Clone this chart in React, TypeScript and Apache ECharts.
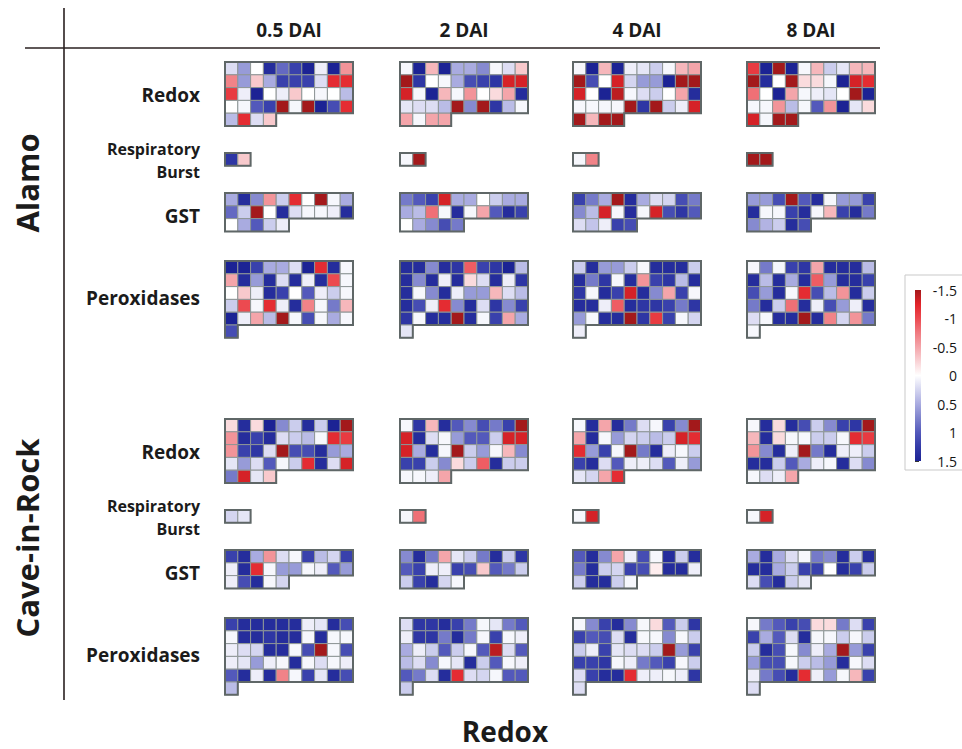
import React, { useEffect, useRef } from "react";
import * as echarts from "echarts";

// ---- labels ----
const TIMEPOINTS = ["0.5 DAI", "2 DAI", "4 DAI", "8 DAI"];
const CULTIVARS = ["Alamo", "Cave-in-Rock"];
const GROUPS = ["Redox", "Respiratory\nBurst", "GST", "Peroxidases"];
const X_TITLE = "Redox";
const COLS = 10;

// colour ramp from -1.5 (top of the key) to 1.5, evenly spaced
const COLOR_STOPS = [
  "#a3191b", "#e2242a", "#ec4a50", "#f07a80", "#f4a5aa", "#f9d2d5", "#ffffff",
  "#d4d5f0", "#a9abe0", "#7d82cc", "#5359bb", "#333ba8", "#1c2394",
];
const SCALE_MIN = -1.5;
const SCALE_MAX = 1.5;
const SCALE_STEP = 0.5;

// ---- Alamo ----
const alamo05Redox = [
  0.2, 0.6, 0, 1.4, 0.9, 1.2, 1.5, 0.1, 1.5, -0.6,
  -0.7, 0.6, -0.3, 0.5, 1.2, 1.2, 1.2, 0.2, -1.2, -1.2,
  -1.1, 0.1, 1.5, 0, 0.1, -0.3, 0, 0.05, 0, 0.4,
  0, 0.05, 1.0, 1.2, -1.5, 0.05, -1.5, 1.5, 1.1, -1.2,
  0.4, -1.2, 0.2, -0.3,
];
const alamo05Burst = [1.3, -0.3];
const alamo05Gst = [
  0.5, 1.4, 0.7, -0.6, 0.3, -1.2, 0, -1.5, 0.05, 0.5,
  0.9, 0.3, -1.5, 0, 1.4, 0.2, 0.05, 0.05, 0.1, 1.4,
  0, 0.5, 1.0, 0.3, 0.1,
];
const alamo05Perox = [
  1.5, 1.5, 1.2, 0.5, 0.5, 0.2, 1.5, -1.2, 1.4, 0.05,
  -0.5, 1.4, 0.6, 1.4, 0.2, 1.4, 0.1, 1.4, -1.0, 0.05,
  0, -0.3, 0.1, 1.4, 1.2, 0, 1.0, 0.1, 0.3, 0.05,
  0.3, -1.0, 0.05, -1.2, 0.1, 1.4, -0.7, 0.05, 0.8, -0.4,
  1.5, 0.1, -0.5, 0.4, -1.5, 0.05, 1.1, 0.05, 0.5, 0.05,
  1.1,
];

const alamo2Redox = [
  0.05, 1.5, -0.4, 1.5, 0.5, 0.5, 0.7, 0.05, 0.2, -0.3,
  -1.5, 1.3, 0, 0.05, 0.5, 1.1, 1.2, 1.3, -1.3, -1.3,
  -1.3, 0.05, 1.5, -0.4, 0.05, -0.6, 0, -0.2, -0.5, 1.4,
  0.15, 0.2, 0.2, 0.4, -1.5, 0.7, -1.5, 1.3, 0.4, 0.05,
  -0.5, 0.05, -0.5, -0.5,
];
const alamo2Burst = [0.05, -1.5];
const alamo2Gst = [
  0.8, 1.0, 1.2, -1.3, 0.5, 0.5, 0, 0.3, 0.5, 0.5,
  0.5, 0.4, -0.8, 0.05, 1.4, 0.05, -0.5, 1.0, 1.4, 1.2,
  0, 0.5, 0.7, 1.1, 0.8,
];
const alamo2Perox = [
  1.4, 1.4, 0.7, 1.4, 1.3, -0.9, 1.2, 1.3, 1.5, 0.4,
  1.4, 0.7, 1.4, 0.1, 1.4, -0.2, 0.2, 1.4, 0.1, 1.3,
  1.4, 0.05, 0.7, 1.4, 0.1, 0.6, 0.6, -0.4, 0.2, 0.4,
  1.4, 1.1, 0.1, -1.2, 0.7, 1.4, 0.2, 1.3, 0.7, 1.2,
  1.3, 0.05, 1.4, 1.4, -1.5, 1.4, 0.05, 1.2, -0.5, 0.5,
  0.15,
];

const alamo4Redox = [
  0.05, 1.5, -0.4, 1.5, 0.1, 0.15, 0.3, 0.05, -0.4, -0.5,
  -1.5, 1.1, 0, -1.3, 0.25, 0.6, 0.6, 1.5, -1.5, -1.5,
  -1.3, 0, 1.5, -1.4, 0.05, 0.2, 0.3, 0, -0.5, 1.4,
  0.05, 0.05, 0.05, 0.05, -1.5, 1.3, -1.5, 0.3, 0.1, -1.3,
  -1.5, -0.4, -1.5, -1.5,
];
const alamo4Burst = [0.05, -0.7];
const alamo4Gst = [
  1.2, 0.8, 0.5, -1.5, 1.4, 0.5, 0.2, 0.25, 1.1, 0.8,
  0.7, 0.4, -1.3, 0.05, 1.4, 0.05, -1.3, 1.1, 1.3, 1.0,
  0.2, 0.35, 0.1, 1.2, 1.1,
];
const alamo4Perox = [
  0.3, 1.4, 0.6, 0.6, 0.3, 0.05, 1.4, 1.4, 1.4, 0.3,
  1.4, 0.8, 1.3, 0.05, 1.4, -0.6, 1.2, 1.3, 0.4, 1.4,
  1.3, 0.05, 1.4, 1.2, -1.3, 1.4, 0.7, -0.5, 1.2, 0.05,
  1.4, 1.4, 0.1, -0.9, 1.4, 1.3, 1.3, 1.2, 0.8, 1.3,
  0.6, 0.05, 1.4, 1.4, -1.5, 1.3, -1.1, 1.2, 0.05, 0.25,
  0.1,
];

const alamo8Redox = [
  -1.1, 1.5, -1.5, 1.5, 0.05, -0.4, 0.3, 0.15, -0.4, -0.4,
  -1.5, 1.4, 0, -1.5, -0.2, -0.2, 0.05, 1.5, -1.3, -1.2,
  -0.8, 0, 1.5, -0.5, 0.05, 0.1, 0.15, 0, -1.5, 1.5,
  0.05, 0.05, -0.6, 0.4, 0.05, 1.0, -0.6, 1.5, 0.15, -0.2,
  -1.3, 0.05, -1.5, -1.5,
];
const alamo8Burst = [-1.5, -1.5];
const alamo8Gst = [
  0.6, 0.6, 1.1, -1.5, 1.0, 1.4, 0.05, 0.6, 0.6, 1.2,
  1.4, 0.05, 0.05, 1.2, 1.4, 0.05, -0.4, 1.2, 1.4, 0.8,
  0.7, 0.45, 0.3, 1.4, 1.1,
];
const alamo8Perox = [
  0.05, 0.8, 0.05, 1.2, 1.3, -0.5, 1.4, 1.4, 1.4, 0.4,
  1.4, 0.4, 1.4, 0.5, 1.4, -0.9, 0.6, 1.4, 1.4, 1.2,
  1.1, 0.6, 1.4, 0.05, -1.2, 1.1, 0.4, -0.6, 1.4, 0.3,
  0.8, 1.4, 0.3, -0.8, 1.4, 0.1, 1.1, 0.6, 0.1, 1.4,
  0.2, 0.05, 1.4, 1.4, -1.5, 1.4, -0.7, 0.25, -0.6, 0.8,
  0.05,
];

// ---- Cave-in-Rock ----
const cir05Redox = [
  -0.2, 1.4, -0.2, 1.5, 0.7, 0.3, 1.4, 0.3, 1.5, -1.5,
  -0.6, 1.4, 1.2, 1.4, 0.2, 0.3, 0.4, 0.05, -1.2, -1.1,
  -0.6, 1.2, 1.3, 0.2, -1.5, 1.1, 1.1, 1.4, 0.6, 0.5,
  0.15, 0.6, 0.2, 1.0, 0.05, 0.3, -1.2, 1.4, 0.2, -1.3,
  0.8, -1.3, 0.15, -0.3,
];
const cir05Burst = [0.25, 0.15];
const cir05Gst = [
  1.2, 1.4, 0.5, -0.6, 0.2, 0.05, 1.2, 0.4, 0.25, 1.2,
  0.1, 1.4, -1.2, 0.05, 0.6, 0.6, 0.05, 0.1, 1.0, 0.6,
  0.1, 1.1, 1.4, 0.05, 0.25,
];
const cir05Perox = [
  1.2, 1.4, 1.4, 1.4, 1.4, 1.4, 0.1, 0.15, 1.4, 1.1,
  0.05, 1.4, 1.4, 1.3, 1.4, 1.4, 0.05, 1.4, 0.05, 0.05,
  0.1, 0.2, 0.25, 1.4, 1.4, 0.05, 1.1, -1.5, 0.05, 1.1,
  0.1, 0.15, 0.6, 0.1, 0.05, 1.4, 0.05, 0.2, 0.05, 0.1,
  1.0, 1.4, 0.1, 1.4, -0.7, 0.05, 1.2, 0.15, 1.4, 1.1,
  0.4,
];

const cir2Redox = [
  0.05, 1.3, -0.4, 1.4, 1.0, 0.7, 1.1, 0.8, 1.2, -1.5,
  -1.3, 1.4, 0.2, 0.05, 0.6, 1.0, 1.0, 0.3, -1.3, -1.3,
  -1.3, 0.5, 1.4, 0.05, -1.5, 0.3, 0.6, 0.05, -0.4, 0.7,
  1.2, 1.2, 0.3, 0.7, -0.2, 0.3, -0.9, 1.4, 0.3, 0.3,
  0.05, 0.05, 0.1, -0.5,
];
const cir2Burst = [0.05, -0.8];
const cir2Gst = [
  0.7, 1.4, 0.8, -0.5, 0.15, 0.3, 0.8, 1.4, 0.3, 1.3,
  1.0, 1.2, 0.1, 0.1, 1.2, 1.1, -0.3, 1.0, 0.8, 0.3,
  0.3, 1.2, 1.4, 0.25, 0.05,
];
const cir2Perox = [
  0.2, 1.3, 1.3, 1.4, 1.2, 0.8, 0.05, 0.15, 0.8, 1.0,
  0.1, 1.3, 1.3, 0.8, 1.4, 0.8, 0.05, 1.2, 0.05, 0.1,
  0.5, 0.1, 0.3, 1.0, 0.3, 0.05, 1.0, -1.4, 0.2, 1.0,
  0.4, 0.2, 0.7, 0.05, 0.15, 1.4, 0.3, 1.0, 0.05, 0.1,
  1.0, 0.8, 0.2, 1.4, -1.2, 0.2, 0.25, 0.05, 1.0, 1.0,
  0.3,
];

const cir4Redox = [
  0.05, 1.4, -0.5, 1.4, 0.8, 0.2, 0.05, 1.2, 0.7, -1.5,
  -0.5, 1.4, 0.05, 0.6, 0.25, 0.3, 0.4, 0.3, -1.3, -1.2,
  -1.2, 0.6, 1.2, 0.05, -1.5, 0.8, 1.4, 0.1, 0.05, 0.3,
  1.2, 1.4, 0.2, 1.0, 0.1, 0.1, 0.2, 1.0, 0.1, 0.6,
  0.15, 0.25, -0.5, -1.2,
];
const cir4Burst = [0.05, -1.3];
const cir4Gst = [
  1.0, 1.4, 0.7, -0.5, 0.1, 1.1, 0.05, 1.4, 0.3, 1.4,
  0.8, 1.4, 0.3, 0.25, 1.2, 1.1, -0.1, 1.4, 1.4, 0.1,
  0.3, 1.4, 1.4, 0.3, 0.05,
];
const cir4Perox = [
  0.05, 0.7, 1.2, 1.4, 0.7, 0.05, -0.2, 1.0, 0.3, 1.3,
  1.2, 1.0, 1.1, 0.2, 1.4, 0.05, 0.05, 0.7, 0.05, 0.3,
  0.3, 0.1, 1.2, 0.15, 0.2, 0.2, 0.3, -1.5, 0.6, 1.2,
  1.2, 1.2, 1.3, 0.05, 0.1, 0.8, 1.0, 1.2, 0.05, 0.3,
  0.2, 1.2, 1.4, 1.4, -1.2, 0.1, 0.1, 0.05, 0.1, 1.3,
  0.2,
];

const cir8Redox = [
  0.05, 1.4, -0.2, 1.4, 1.1, 0.3, 0.7, 1.2, 1.3, -1.5,
  -0.4, 1.4, -0.2, 0.05, 0.05, 0.3, 0.3, 0.05, -1.2, -1.1,
  -0.6, 0.7, 1.4, 0.1, -1.5, 0.8, 1.4, 0.1, 0.1, 0.3,
  1.4, 1.4, 0.3, 1.0, 0.5, 0.1, 0.05, 1.4, 0.2, 0.7,
  0.05, 0.2, 0.1, -0.5,
];
const cir8Burst = [0.05, -1.3];
const cir8Gst = [
  0.5, 1.4, 0.5, 0.2, 0.05, 0.8, 0.7, 1.4, 0.3, 1.4,
  1.4, 1.4, 0.5, 0.3, 1.2, 1.2, 0, 1.4, 1.2, 0.3,
  0.2, 1.1, 1.4, 0.3, 0.15,
];
const cir8Perox = [
  0.05, 0.8, 1.0, 1.2, 1.1, -0.2, -0.2, 0.8, 0.2, 1.2,
  1.2, 0.5, 1.0, 0.2, 1.4, 0.05, 0.05, 0.3, 0.05, 0.3,
  0.3, 1.4, 1.1, 0.05, 0.7, 0.1, 0.5, -1.5, 0.6, 1.2,
  0.6, 1.1, 1.1, 0.05, 0.3, 0.4, 0.6, 1.4, 0.05, 0.2,
  0.1, 0.8, 1.1, 1.4, -1.2, 0.1, 0.6, 0.05, -0.4, 1.2,
  0.2,
];

// [cultivar][timepoint][group]
const PANELS: number[][][][] = [
  [
    [alamo05Redox, alamo05Burst, alamo05Gst, alamo05Perox],
    [alamo2Redox, alamo2Burst, alamo2Gst, alamo2Perox],
    [alamo4Redox, alamo4Burst, alamo4Gst, alamo4Perox],
    [alamo8Redox, alamo8Burst, alamo8Gst, alamo8Perox],
  ],
  [
    [cir05Redox, cir05Burst, cir05Gst, cir05Perox],
    [cir2Redox, cir2Burst, cir2Gst, cir2Perox],
    [cir4Redox, cir4Burst, cir4Gst, cir4Perox],
    [cir8Redox, cir8Burst, cir8Gst, cir8Perox],
  ],
];

// ---- layout ----
const W = 962;
const H = 749;
const CELL = 12.8;
const BLOCK_LEFT = [225, 400, 573, 747];
const GROUP_TOP = [62, 153, 193, 261];
const CULTIVAR_SHIFT = [0, 357];
const GROUP_LABEL_Y = [95, 160, 216, 298];
const CULTIVAR_LABEL_Y = [183, 538];
const INK = "#1b1b1b";
const FONT = '"Open Sans", "DejaVu Sans", sans-serif';

function renderCell(params: any, api: any) {
  const c = api.value(0);
  const r = api.value(1);
  const p0 = api.coord([c, r]);
  const p1 = api.coord([c + 1, r + 1]);
  return {
    type: "rect",
    shape: {
      x: Math.min(p0[0], p1[0]),
      y: Math.min(p0[1], p1[1]),
      width: Math.abs(p1[0] - p0[0]),
      height: Math.abs(p1[1] - p0[1]),
    },
    style: { fill: api.visual("color"), stroke: "#8e9696", lineWidth: 1 },
  };
}

// outline of a block: full rows of COLS cells plus a shorter last row
function renderOutline(params: any, api: any) {
  const n = api.value(2);
  const full = Math.floor(n / COLS);
  const rest = n % COLS;
  let pts: number[][];
  if (full === 0) pts = [[0, 0], [rest, 0], [rest, 1], [0, 1]];
  else if (rest === 0) pts = [[0, 0], [COLS, 0], [COLS, full], [0, full]];
  else
    pts = [[0, 0], [COLS, 0], [COLS, full], [rest, full], [rest, full + 1], [0, full + 1]];
  return {
    type: "polygon",
    shape: { points: pts.map((p) => api.coord(p)) },
    style: { fill: "none", stroke: "#5f6767", lineWidth: 2 },
  };
}

function buildOption() {
  const grid: any[] = [];
  const xAxis: any[] = [];
  const yAxis: any[] = [];
  const series: any[] = [];
  const cellSeries: number[] = [];

  PANELS.forEach((cultivar, ci) => {
    cultivar.forEach((groups, ti) => {
      groups.forEach((values, gi) => {
        const rows = Math.ceil(values.length / COLS);
        const g = grid.length;
        grid.push({
          left: BLOCK_LEFT[ti],
          top: GROUP_TOP[gi] + CULTIVAR_SHIFT[ci],
          width: CELL * COLS,
          height: CELL * rows,
        });
        xAxis.push({ type: "value", gridIndex: g, min: 0, max: COLS, show: false });
        yAxis.push({ type: "value", gridIndex: g, min: 0, max: rows, inverse: true, show: false });
        cellSeries.push(series.length);
        series.push({
          type: "custom",
          xAxisIndex: g,
          yAxisIndex: g,
          silent: true,
          renderItem: renderCell,
          encode: { x: 0, y: 1 },
          data: values.map((v, i) => [i % COLS, Math.floor(i / COLS), v]),
        });
        series.push({
          type: "custom",
          xAxisIndex: g,
          yAxisIndex: g,
          silent: true,
          z: 3,
          renderItem: renderOutline,
          encode: { x: 0, y: 1 },
          data: [[0, 0, values.length]],
        });
      });
    });
  });

  // colour key
  const kg = grid.length;
  grid.push({ left: 915, top: 290, width: 6, height: 171 });
  xAxis.push({ type: "value", gridIndex: kg, min: 0, max: 1, show: false });
  yAxis.push({
    type: "value",
    gridIndex: kg,
    min: SCALE_MIN,
    max: SCALE_MAX,
    interval: SCALE_STEP,
    inverse: true,
    position: "right",
    offset: 5,
    axisLine: { show: false },
    axisTick: { show: true, length: 4, lineStyle: { color: "#333", width: 1 } },
    splitLine: { show: false },
    axisLabel: { margin: 31, align: "right", fontSize: 14, color: "#151515", fontFamily: FONT },
  });
  const gradient = new echarts.graphic.LinearGradient(
    0, 0, 0, 1,
    COLOR_STOPS.map((c, i) => ({ offset: i / (COLOR_STOPS.length - 1), color: c }))
  );
  series.push({
    type: "custom",
    xAxisIndex: kg,
    yAxisIndex: kg,
    silent: true,
    encode: { x: 0, y: 1 },
    data: [[0, SCALE_MIN]],
    renderItem: (params: any, api: any) => {
      const p0 = api.coord([0, SCALE_MIN]);
      const p1 = api.coord([1, SCALE_MAX]);
      return {
        type: "rect",
        shape: { x: p0[0], y: Math.min(p0[1], p1[1]), width: p1[0] - p0[0], height: Math.abs(p1[1] - p0[1]) },
        style: { fill: gradient },
      };
    },
  });

  const graphic: any[] = [
    { type: "rect", shape: { x: 905, y: 275, width: 80, height: 195 }, style: { fill: "none", stroke: "#c9c9c9", lineWidth: 1 } },
    { type: "line", shape: { x1: 64, y1: 8, x2: 64, y2: 700 }, style: { stroke: "#2a2020", lineWidth: 1.6 } },
    { type: "line", shape: { x1: 25, y1: 48, x2: 880, y2: 48 }, style: { stroke: "#2a2020", lineWidth: 1.6 } },
    {
      type: "text",
      x: 505,
      y: 731,
      style: { text: X_TITLE, font: `bold 28px ${FONT}`, fill: INK, textAlign: "center", textVerticalAlign: "middle" },
    },
  ];
  TIMEPOINTS.forEach((t, ti) => {
    graphic.push({
      type: "text",
      x: BLOCK_LEFT[ti] + (CELL * COLS) / 2,
      y: 30,
      style: { text: t, font: `bold 19px ${FONT}`, fill: INK, textAlign: "center", textVerticalAlign: "middle" },
    });
  });
  CULTIVARS.forEach((cv, ci) => {
    graphic.push({
      type: "text",
      x: 27,
      y: CULTIVAR_LABEL_Y[ci],
      rotation: Math.PI / 2,
      style: { text: cv, font: `bold 31px ${FONT}`, fill: INK, textAlign: "center", textVerticalAlign: "middle" },
    });
    GROUPS.forEach((gname, gi) => {
      const multi = gname.includes("\n");
      graphic.push({
        type: "text",
        x: 200,
        y: GROUP_LABEL_Y[gi] + CULTIVAR_SHIFT[ci],
        style: {
          text: gname,
          font: `bold ${multi ? 16 : 19}px ${FONT}`,
          lineHeight: 23,
          fill: INK,
          textAlign: "right",
          textVerticalAlign: "middle",
        },
      });
    });
  });

  return {
    animation: false,
    backgroundColor: "#ffffff",
    grid,
    xAxis,
    yAxis,
    visualMap: {
      type: "continuous",
      show: false,
      min: SCALE_MIN,
      max: SCALE_MAX,
      dimension: 2,
      seriesIndex: cellSeries,
      inRange: { color: COLOR_STOPS },
    },
    series,
    graphic,
  };
}

export default function App() {
  const ref = useRef<HTMLDivElement>(null);
  useEffect(() => {
    if (!ref.current) return;
    const chart = echarts.init(ref.current, undefined, { renderer: "svg" });
    chart.setOption(buildOption() as any);
    return () => chart.dispose();
  }, []);
  return <div ref={ref} style={{ position: "absolute", left: 0, top: 0, width: W, height: H }} />;
}
